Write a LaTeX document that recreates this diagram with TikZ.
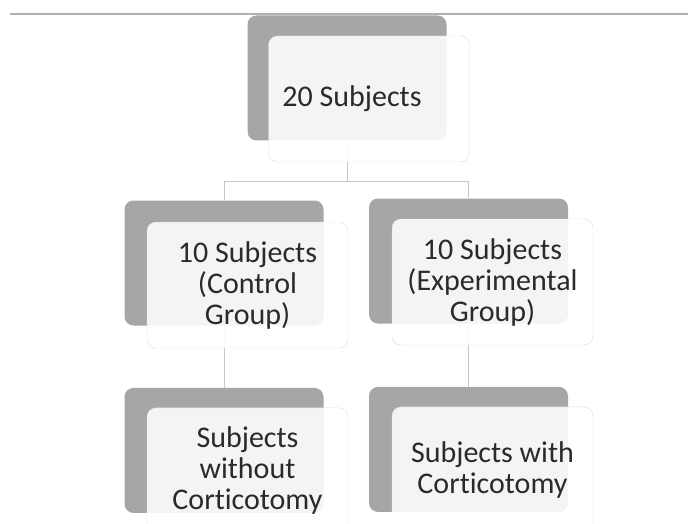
\documentclass[tikz,border=0pt]{standalone}
\usepackage{fontspec}
\setmainfont[Ligatures=NoCommon]{Carlito}
\usepackage{tikz}
\usetikzlibrary{positioning}
\definecolor{Shade}{HTML}{A6A6A6}
\definecolor{Edge}{HTML}{DDDDDD}
\definecolor{Ink}{HTML}{2A2A2A}
\definecolor{RuleGray}{HTML}{B0B0B0}
\newcommand{\corti}{Cort\kern0pt icotomy}

\begin{document}
\begin{tikzpicture}[x=1pt,y=-1pt,
  back/.style={rectangle,rounded corners=9pt,fill=Shade,
               minimum width=199pt,minimum height=125pt,inner sep=0pt},
  front/.style={rectangle,rounded corners=9pt,draw=Edge,fill=white,
                fill opacity=0.88,text opacity=1,minimum width=201pt,
                minimum height=126pt,inner sep=0pt,align=center,text=Ink,
                font=\fontsize{30}{31}\selectfont},
  link/.style={draw=Edge!90!black,line width=0.9pt}]
\useasboundingbox (0,0) rectangle (688,524);
\draw[RuleGray,line width=2pt] (10,14) -- (688,14);
% grey backing shapes
\node[back] (g0) at (347,78) {};
\node[back] (g1) at (224,263) {};
\node[back] (g2) at (468.5,261) {};
\node[back,below=62pt of g1] (g3) {};
\node[back,below=63pt of g2] (g4) {};
% tree lines
\coordinate (split) at (347,181);
\draw[link] (g0.south) -- (split) -| (g1.north);
\draw[link] (split) -| (g2.north);
\draw[link] (g1.south) -- (g3.north);
\draw[link] (g2.south) -- (g4.north);
% text boxes
\node[front,xshift=22pt,yshift=-21pt] (b0) at (g0) {20 Subjects\hspace*{34pt}};
\node[front,xshift=23.5pt,yshift=-22pt] (b1) at (g1) {10 Subjects\\(Control\\Group)};
\node[front,xshift=24pt,yshift=-21pt] (b2) at (g2) {10 Subjects\\(Experimental\\Group)};
\node[front,xshift=23.5pt,yshift=-20.5pt] (b3) at (g3) {Subjects\\without\\\corti};
\node[front,xshift=24pt,yshift=-20.5pt] (b4) at (g4) {Subjects with\\\corti};
\end{tikzpicture}
\end{document}
